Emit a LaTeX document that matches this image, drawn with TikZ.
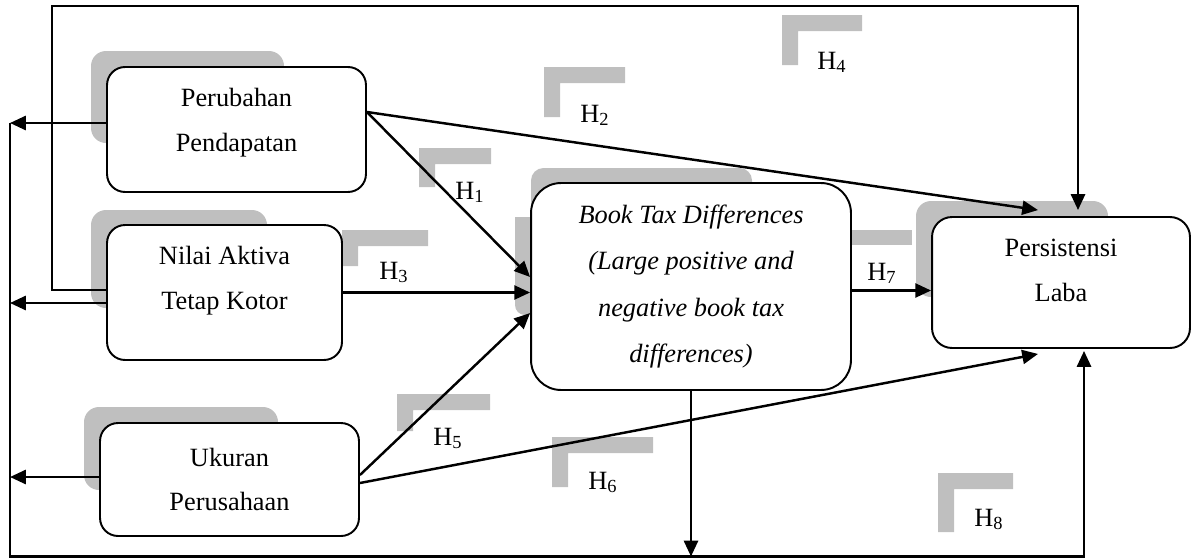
\documentclass[tikz,border=0pt]{standalone}
\usepackage{fontspec}
\setmainfont{Liberation Serif}
\usetikzlibrary{arrows.meta,calc}

\definecolor{shadegray}{RGB}{191,191,191}

\tikzset{
  varbox/.style={draw,fill=white,line width=1.1pt,rectangle,rounded corners=0.36cm,
    align=center,inner sep=0pt,font=\fontsize{15}{25.5}\selectfont},
  arr/.style={line width=1.4pt,-{Triangle[length=9pt,width=8pt]}},
  hlabel/.style={anchor=base west,inner sep=0pt,font=\fontsize{15}{18}\selectfont},
}

\newcommand{\hmark}[4]{
  \fill[shadegray] (#1,#4) -- (#1,#2) -- (#3,#2) -- (#3,#2+16) -- (#1+16,#2+16) -- (#1+16,#4) -- cycle;
}

\begin{document}
\begin{tikzpicture}[x=0.02cm,y=-0.02cm]
  \useasboundingbox (0,0) rectangle (1192,558);

  % shadows behind the boxes
  \fill[shadegray,rounded corners=0.3cm] (91,51) rectangle (284,143);
  \fill[shadegray,rounded corners=0.3cm] (91,210) rectangle (267,308);
  \fill[shadegray,rounded corners=0.3cm] (84,407) rectangle (278,490);
  \fill[shadegray,rounded corners=0.25cm] (531,168) rectangle (752,300);
  \fill[shadegray] (545,217) -- (515,217) [rounded corners=0.2cm] -- (515,315) -- (545,315) -- cycle;
  \fill[shadegray,rounded corners=0.3cm] (916,201) rectangle (1108,297);

  \hmark{419}{148}{491}{187}
  \hmark{544}{67}{625}{117}
  \hmark{342}{230}{428}{266}
  \hmark{782}{15}{862}{65}
  \hmark{397}{394}{490}{431}
  \hmark{552}{437}{653}{487}
  \hmark{938}{473}{1013}{532}
  \fill[shadegray] (846,230) rectangle (912,245);

  \node [varbox,minimum width=5.18cm,minimum height=2.5cm,text depth=11pt] (pp) at (236.5,129.5) {Perubahan\\Pendapatan};
  \node [varbox,minimum width=4.7cm,minimum height=2.7cm,text depth=17pt] (na) at (224.5,292.5) {Nilai Aktiva\\Tetap Kotor};
  \node [varbox,minimum width=5.18cm,minimum height=2.26cm] (up) at (229.5,479.5) {Ukuran\\Perusahaan};
  \node [varbox,rounded corners=0.6cm,minimum width=6.4cm,minimum height=4.14cm,
    font=\fontsize{15}{26.5}\selectfont\itshape] (btd) at (691,286.5)
    {Book Tax Differences\\(Large positive and\\negative book tax\\differences)};
  \node [varbox,rounded corners=0.4cm,minimum width=5.16cm,minimum height=2.62cm,text depth=14pt] (pl) at (1061,282.5) {Persistensi\\Laba};

  \coordinate (tl) at (52,6);
  \coordinate (tr) at (1078,6);
  \coordinate (lt) at (10,123);
  \coordinate (lb) at (10,556.5);
  \coordinate (rb) at (1084,556.5);

  \coordinate (p1) at ($(pp.east)+(0,-17.5)$);
  \coordinate (n4) at ($(na.west)+(0,-2.5)$);
  \coordinate (b7) at ($(btd.east)+(0,4)$);
  \coordinate (p8) at ($(pp.west)+(0,-6.5)$);
  \coordinate (n8) at ($(na.west)+(0,10.5)$);
  \coordinate (u8) at ($(up.west)+(0,-2.5)$);

  \draw[arr] (p1) -- ($(btd.west)+(0,-9.5)$);
  \draw[arr] (p1) -- ($(pl.north)+(-23,-6)$);
  \draw[arr] (na.east) -- (na.east -| btd.west);
  \draw[arr] (n4) -- (n4 -| tl) -- (tl) -- (tr) -- ($(tr |- pl.north)+(0,-6)$);
  \draw[arr] ($(up.east)+(0,-4.5)$) -- ($(btd.west)+(0,26.5)$);
  \draw[arr] ($(up.east)+(0,3.5)$) -- ($(pl.south)+(-23,5)$);
  \draw[arr] (b7) -- (b7 -| pl.west);
  \draw[arr] (p8) -- (p8 -| lt);
  \draw[arr] (n8) -- (n8 -| lt);
  \draw[arr] (u8) -- (u8 -| lt);
  \draw[arr] (lt) -- (lb) -- (rb) -- ($(rb |- pl.south)+(0,2)$);
  \draw[arr] (btd.south) -- (btd.south |- lb);

  \node [hlabel] (h1) at (455,199) {H\textsubscript{1}};
  \node [hlabel] (h2) at (580,122) {H\textsubscript{2}};
  \node [hlabel] (h3) at (379,279) {H\textsubscript{3}};
  \node [hlabel] (h4) at (817,69) {H\textsubscript{4}};
  \node [hlabel] (h5) at (433,445) {H\textsubscript{5}};
  \node [hlabel] (h6) at (588,489) {H\textsubscript{6}};
  \node [hlabel] (h7) at (867,280) {H\textsubscript{7}};
  \node [hlabel] (h8) at (974,526) {H\textsubscript{8}};
\end{tikzpicture}
\end{document}
